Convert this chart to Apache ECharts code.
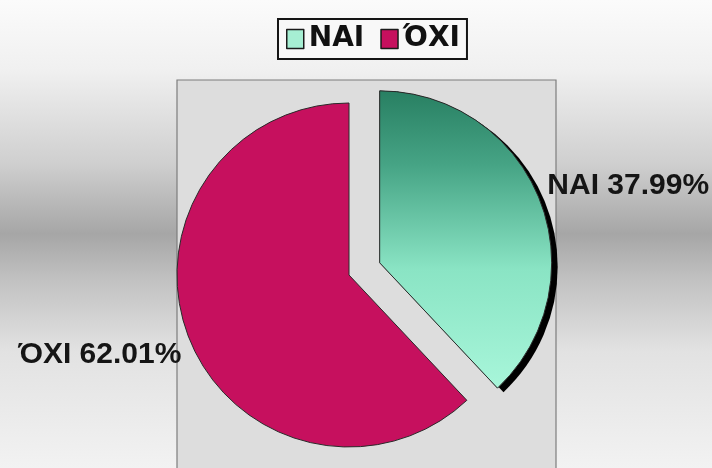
<!DOCTYPE html>
<html>
<head>
<meta charset="utf-8">
<script src="https://cdn.jsdelivr.net/npm/echarts@6/dist/echarts.min.js"></script>
<style>
  html, body { margin: 0; padding: 0; }
  #chart { width: 712px; height: 468px; }
</style>
</head>
<body>
<div id="chart"></div>
<script>
// Answers: yes / no shares (percent)
const categories = ['NAI', 'ΌΧΙ'];
const shares = [37.99, 62.01];
const sliceColors = ['#2f8d6f', '#c6105e'];
const legendColors = ['#a6efd3', '#c6105e'];

const chart = echarts.init(document.getElementById('chart'));

const tealGradient = () => new echarts.graphic.LinearGradient(0, 0, 0, 1, [
  { offset: 0, color: '#287f62' },
  { offset: 0.25, color: '#46a485' },
  { offset: 0.6, color: '#8ae4c4' },
  { offset: 1, color: '#a8f6da' }
]);

// Top layer: the visible slices with thin outlines
const pieData = categories.map((name, i) => ({
  name: name,
  value: shares[i],
  selected: i === 0,
  itemStyle: { color: i === 0 ? tealGradient() : sliceColors[i] }
}));

// Bottom layer: same slices, only the exploded one casts a hard shadow
const shadowData = categories.map((name, i) => ({
  name: name,
  value: shares[i],
  selected: i === 0,
  itemStyle: i === 0
    ? { color: '#000', shadowColor: '#000', shadowBlur: 0, shadowOffsetX: 6, shadowOffsetY: 4 }
    : { color: 'rgba(0,0,0,0)' }
}));

const common = {
  type: 'pie',
  center: [349, 275],
  radius: 172,
  startAngle: 90,
  clockwise: true,
  selectedMode: 'single',
  selectedOffset: 33,
  animation: false,
  emphasis: { disabled: true }
};

chart.setOption({
  backgroundColor: new echarts.graphic.LinearGradient(0, 0, 0, 1, [
    { offset: 0, color: '#fbfbfb' },
    { offset: 0.15, color: '#f0f0f0' },
    { offset: 0.35, color: '#cfcfcf' },
    { offset: 0.5, color: '#a6a6a6' },
    { offset: 0.6, color: '#c2c2c2' },
    { offset: 0.75, color: '#e2e2e2' },
    { offset: 1, color: '#f2f2f2' }
  ]),
  graphic: [{
    type: 'rect',
    z: -1,
    shape: { x: 177, y: 80, width: 379, height: 400 },
    style: { fill: '#dddddd', stroke: '#7d7d7d', lineWidth: 1.2 }
  }],
  legend: {
    left: 278,
    top: 19,
    data: categories.map((name, i) => ({
      name: name,
      itemStyle: { color: legendColors[i] }
    })),
    icon: 'rect',
    itemWidth: 17,
    itemHeight: 19,
    itemGap: 16,
    padding: [6, 7, 6, 8],
    backgroundColor: '#f8f8f8',
    borderColor: '#151515',
    borderWidth: 2,
    itemStyle: { borderColor: '#1a1a1a', borderWidth: 1.5 },
    textStyle: {
      fontFamily: 'DejaVu Sans',
      fontWeight: 'bold',
      fontSize: 28,
      color: '#111'
    },
    selectedMode: false
  },
  series: [
    Object.assign({}, common, {
      z: 1,
      silent: true,
      legendHoverLink: false,
      label: { show: false },
      labelLine: { show: false },
      itemStyle: { borderWidth: 0 },
      data: shadowData
    }),
    Object.assign({}, common, {
      z: 2,
      itemStyle: { borderColor: '#2a2a2a', borderWidth: 1 },
      label: {
        show: true,
        position: 'outside',
        formatter: '{b} {d}%',
        fontFamily: 'Liberation Sans',
        fontWeight: 'bold',
        fontSize: 30,
        color: '#151515'
      },
      labelLine: { show: false, length: 3, length2: 0 },
      labelLayout: function (params) {
        return params.dataIndex === 0 ? { dy: -13 } : { dy: 15 };
      },
      data: pieData
    })
  ]
});
</script>
</body>
</html>
